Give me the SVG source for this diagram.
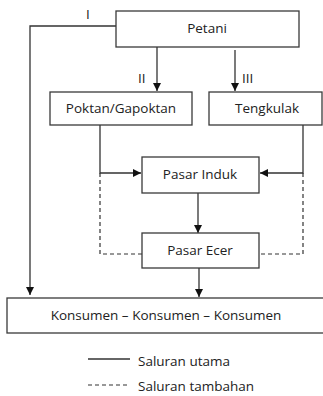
<svg xmlns="http://www.w3.org/2000/svg" width="323" height="396" viewBox="0 0 323 396">
<defs>
<style>
.box{fill:#fff;stroke:#3a3a3a;stroke-width:1.3}
.t{font-family:"Open Sans","Liberation Sans",sans-serif;font-size:13.5px;fill:#222;text-anchor:middle}
.l{font-family:"Open Sans","Liberation Sans",sans-serif;font-size:13.5px;fill:#222}
.ln{fill:none;stroke:#333;stroke-width:1.3}
.ds{fill:none;stroke:#333;stroke-width:1.2;stroke-dasharray:4,3}
</style>
<marker id="ah" viewBox="0 0 10 10" refX="10" refY="5" markerWidth="8" markerHeight="8" markerUnits="userSpaceOnUse" orient="auto">
<path d="M0,0 L10,5 L0,10 z" fill="#111"/>
</marker>
</defs>
<rect width="323" height="396" fill="#fff"/>
<g id="connectors">
<polyline class="ln" points="116,26 30,26 30,295" marker-end="url(#ah)"/>
<line class="ln" x1="157" y1="47" x2="157" y2="91" marker-end="url(#ah)"/>
<line class="ln" x1="235" y1="50" x2="235" y2="91" marker-end="url(#ah)"/>
<polyline class="ln" points="100,125 100,173 141,173" marker-end="url(#ah)"/>
<polyline class="ln" points="303,125 303,173 260,173" marker-end="url(#ah)"/>
<line class="ln" x1="198" y1="193" x2="198" y2="233" marker-end="url(#ah)"/>
<line class="ln" x1="199" y1="268" x2="199" y2="297" marker-end="url(#ah)"/>
<polyline class="ds" points="100,173 100,254 142,254"/>
<polyline class="ds" points="303,173 303,254 259,254"/>
<text class="l" x="86" y="19">I</text>
<text class="l" x="138" y="83">II</text>
<text class="l" x="242" y="83">III</text>
</g>
<g id="petani"><rect class="box" x="116" y="11" width="183" height="36"/><text class="t" x="207" y="33">Petani</text></g>
<g id="poktan"><rect class="box" x="50" y="92" width="142" height="33"/><text class="t" x="121" y="113">Poktan/Gapoktan</text></g>
<g id="tengkulak"><rect class="box" x="209" y="92" width="113" height="33"/><text class="t" x="267" y="113">Tengkulak</text></g>
<g id="pasar-induk"><rect class="box" x="142" y="157" width="117" height="36"/><text class="t" x="200" y="179">Pasar Induk</text></g>
<g id="pasar-ecer"><rect class="box" x="142" y="233" width="117" height="35"/><text class="t" x="200" y="255">Pasar Ecer</text></g>
<g id="konsumen"><rect class="box" x="7" y="298" width="320" height="35"/><text class="t" x="166" y="320">Konsumen – Konsumen – Konsumen</text></g>
<g id="legend">
<line class="ln" x1="88" y1="359" x2="130" y2="359"/>
<text class="l" x="138" y="366">Saluran utama</text>
<line class="ds" x1="88" y1="385" x2="130" y2="385" stroke-dasharray="3,2"/>
<text class="l" x="138" y="391">Saluran tambahan</text>
</g>
</svg>
